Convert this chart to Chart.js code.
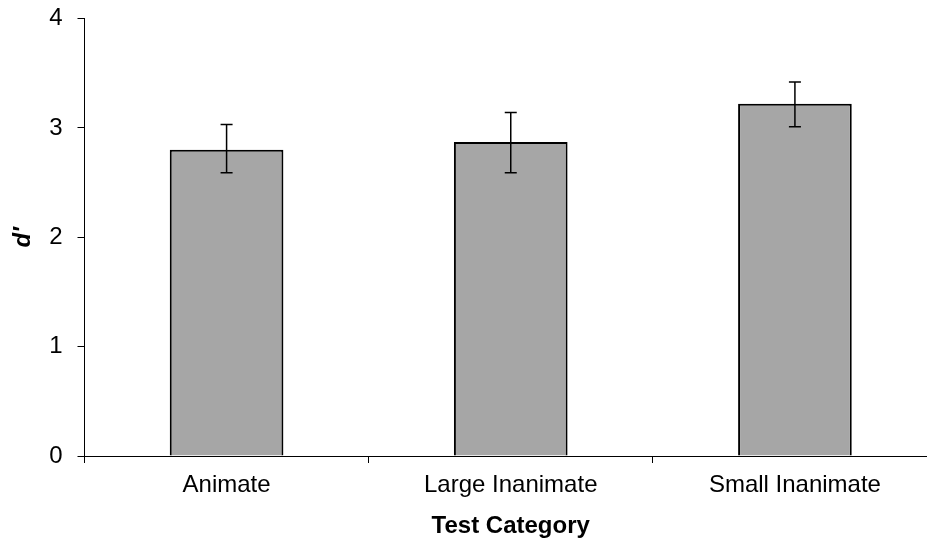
<!DOCTYPE html>
<html>
<head>
<meta charset="utf-8">
<script src="https://cdn.jsdelivr.net/npm/chart.js@4"></script>
<style>
    body { margin: 0; background: #fff; overflow: hidden; }
    #wrap { width: 927px; height: 546px; overflow: hidden; }
</style>
</head>
<body>
<div id="wrap"><canvas id="chart" width="937" height="546"></canvas></div>
<script>
// Values
const categories = ['Animate', 'Large Inanimate', 'Small Inanimate'];
const dPrime = [2.80, 2.87, 3.22];
const errLow = [2.59, 2.59, 3.01];
const errHigh = [3.03, 3.14, 3.42];
const yTicks = [0, 1, 2, 3, 4];

const fontFamily = '"Liberation Sans", Arial, sans-serif';

// Draw the error bars through the chart's own scales
const errorBars = {
    id: 'errorBars',
    afterDatasetsDraw(chart) {
        const ctx = chart.ctx;
        const x = chart.scales.x;
        const y = chart.scales.y;
        ctx.save();
        ctx.strokeStyle = '#000';
        ctx.lineWidth = 1.5;
        categories.forEach((c, i) => {
            const px = x.getPixelForValue(i);
            const top = y.getPixelForValue(errHigh[i]);
            const bot = y.getPixelForValue(errLow[i]);
            ctx.beginPath();
            ctx.moveTo(px, top);
            ctx.lineTo(px, bot);
            ctx.moveTo(px - 6, top);
            ctx.lineTo(px + 6, top);
            ctx.moveTo(px - 6, bot);
            ctx.lineTo(px + 6, bot);
            ctx.stroke();
        });
        ctx.restore();
    }
};

new Chart(document.getElementById('chart'), {
    type: 'bar',
    data: {
        labels: categories,
        datasets: [{
            data: dPrime,
            backgroundColor: '#a6a6a6',
            borderColor: '#000',
            borderWidth: 2,
            categoryPercentage: 1,
            barPercentage: 0.4
        }]
    },
    options: {
        responsive: false,
        animation: false,
        layout: { padding: { top: 18.5, right: 0, left: 0, bottom: 0 } },
        plugins: {
            legend: { display: false },
            tooltip: { enabled: false }
        },
        scales: {
            x: {
                grid: { drawOnChartArea: false, color: '#000', tickLength: 7, offset: true },
                border: { color: '#000', width: 1 },
                ticks: {
                    color: '#000',
                    padding: 8,
                    font: { family: fontFamily, size: 24 }
                },
                title: {
                    display: true,
                    text: 'Test Category',
                    color: '#000',
                    padding: { top: 0, bottom: 5 },
                    font: { family: fontFamily, size: 24, weight: 'bold' }
                },
                afterFit(scale) { scale.height = 90; }
            },
            y: {
                min: 0,
                max: 4,
                afterBuildTicks(scale) {
                    scale.ticks = yTicks.map(v => ({ value: v }));
                },
                grid: { drawOnChartArea: false, color: '#000', tickLength: 7 },
                border: { color: '#000', width: 1 },
                ticks: {
                    color: '#000',
                    padding: 15,
                    font: { family: fontFamily, size: 24 }
                },
                title: {
                    display: true,
                    text: 'd\u2032',
                    color: '#000',
                    padding: { top: 9, bottom: 0 },
                    font: { family: fontFamily, size: 24, weight: 'bold', style: 'italic' }
                },
                afterFit(scale) {
                    scale.width = 84.5;
                    scale.paddingTop = 0;
                    scale.paddingBottom = 0;
                }
            }
        }
    },
    plugins: [errorBars]
});
</script>
</body>
</html>
